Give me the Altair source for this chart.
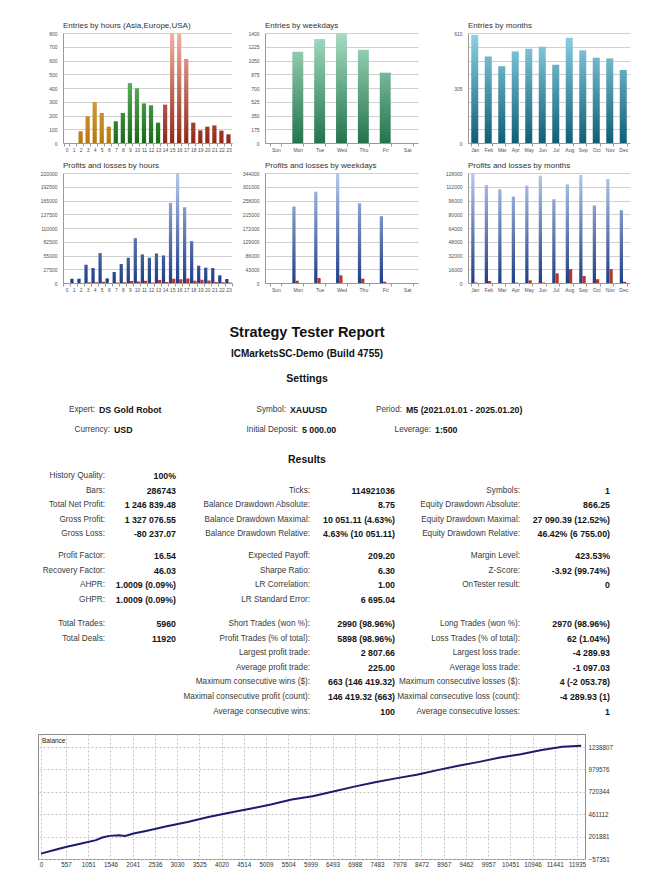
import altair as alt
import pandas as pd

FONT = "Liberation Sans"

# ---------------- data ----------------
hour_labels = [str(h) for h in range(24)]
hour_entries = [0, 0, 85, 194, 298, 218, 119, 158, 218, 436, 398, 288, 274, 148,
                279, 800, 793, 611, 148, 92, 119, 128, 90, 63]
hour_profit = [0, 8600, 8600, 36500, 29900, 59800, 9300, 21900, 37900, 50500, 89700, 57200,
               50500, 59100, 55200, 160200, 220000, 151500, 83700, 34600, 30600, 29900, 15300, 8000]
hour_loss = [0, 0, 0, 1500, 1500, 2500, 0, 1000, 1500, 4000, 3000, 4500,
             1000, 6000, 2000, 8500, 7500, 9000, 4500, 6500, 5000, 2000, 1500, 1000]

weekday_labels = ["Sun", "Mon", "Tue", "Wed", "Thu", "Fri", "Sat"]
weekday_entries = [0, 1162, 1324, 1400, 1188, 895, 0]
weekday_profit = [0, 239000, 285700, 344000, 249400, 208800, 0]
weekday_loss = [0, 7300, 15600, 24000, 13500, 4200, 0]

month_labels = ["Jan", "Feb", "Mar", "Apr", "May", "Jun", "Jul", "Aug", "Sep", "Oct", "Nov", "Dec"]
month_entries = [600, 480, 425, 508, 523, 534, 434, 584, 514, 473, 469, 405]
month_profit = [128000, 114000, 109000, 100500, 113300, 124900, 97400, 114800, 125700, 90100, 121000, 84700]
month_loss = [500, 2300, 0, 500, 3100, 500, 11200, 16200, 8100, 4300, 16200, 1500]

hour_ticks = list(range(0, 801, 100))
weekday_ticks = list(range(0, 1401, 175))
month_ticks = [i * 76.25 for i in range(9)]
hour_pl_ticks = list(range(0, 220001, 27500))
weekday_pl_ticks = list(range(0, 344001, 43000))
month_pl_ticks = list(range(0, 128001, 16000))

report_title = "Strategy Tester Report"
report_subtitle = "ICMarketsSC-Demo (Build 4755)"
settings_header = "Settings"
results_header = "Results"

settings_r1_labels = ["Expert:", "Symbol:", "Period:"]
settings_r1_values = ["DS Gold Robot", "XAUUSD", "M5 (2021.01.01 - 2025.01.20)"]
settings_r2_labels = ["Currency:", "Initial Deposit:", "Leverage:"]
settings_r2_values = ["USD", "5 000.00", "1:500"]

col1_rows = [0, 1, 2, 3, 4, 5, 6, 7, 8, 9, 10]
col1_labels = ["History Quality:", "Bars:", "Total Net Profit:", "Gross Profit:", "Gross Loss:",
               "Profit Factor:", "Recovery Factor:", "AHPR:", "GHPR:", "Total Trades:", "Total Deals:"]
col1_values = ["100%", "286743", "1 246 839.48", "1 327 076.55", "-80 237.07",
               "16.54", "46.03", "1.0009 (0.09%)", "1.0009 (0.09%)", "5960", "11920"]

col2_rows = [1, 2, 3, 4, 5, 6, 7, 8, 9, 10, 11, 12, 13, 14, 15]
col2_labels = ["Ticks:", "Balance Drawdown Absolute:", "Balance Drawdown Maximal:",
               "Balance Drawdown Relative:", "Expected Payoff:", "Sharpe Ratio:", "LR Correlation:",
               "LR Standard Error:", "Short Trades (won %):", "Profit Trades (% of total):",
               "Largest profit trade:", "Average profit trade:", "Maximum consecutive wins ($):",
               "Maximal consecutive profit (count):", "Average consecutive wins:"]
col2_values = ["114921036", "8.75", "10 051.11 (4.63%)", "4.63% (10 051.11)", "209.20", "6.30",
               "1.00", "6 695.04", "2990 (98.96%)", "5898 (98.96%)", "2 807.66", "225.00",
               "663 (146 419.32)", "146 419.32 (663)", "100"]

col3_rows = [1, 2, 3, 4, 5, 6, 7, 9, 10, 11, 12, 13, 14, 15]
col3_labels = ["Symbols:", "Equity Drawdown Absolute:", "Equity Drawdown Maximal:",
               "Equity Drawdown Relative:", "Margin Level:", "Z-Score:", "OnTester result:",
               "Long Trades (won %):", "Loss Trades (% of total):", "Largest loss trade:",
               "Average loss trade:", "Maximum consecutive losses ($):",
               "Maximal consecutive loss (count):", "Average consecutive losses:"]
col3_values = ["1", "866.25", "27 090.39 (12.52%)", "46.42% (6 755.00)", "423.53%",
               "-3.92 (99.74%)", "0", "2970 (98.96%)", "62 (1.04%)", "-4 289.93",
               "-1 097.03", "4 (-2 053.78)", "-4 289.93 (1)", "1"]

balance_deals = [0, 297, 575, 900, 1224, 1363, 1521, 1734, 1873, 2059, 2337, 2801, 3264, 3728,
                 4192, 4656, 5119, 5583, 6047, 6510, 6974, 7438, 7901, 8365, 8829, 9292, 9756,
                 10220, 10683, 11147, 11611, 12028]
balance_values = [5000, 45900, 84100, 122400, 160600, 191200, 210300, 217900, 210300, 237100,
                  267700, 321200, 370900, 428200, 477900, 524000, 573500, 630900, 669000, 722700,
                  780000, 829700, 875600, 917700, 971200, 1021000, 1066700, 1116400, 1154700,
                  1204400, 1242600, 1251839]
balance_x_ticks = [0, 557, 1051, 1546, 2041, 2536, 3030, 3525, 4020, 4514, 5009, 5504, 5999,
                   6493, 6988, 7483, 7978, 8472, 8967, 9462, 9957, 10451, 10946, 11441, 11935]
balance_y_ticks = [-57351, 201881, 461112, 720344, 979576, 1238807]

# ---------------- styles ----------------
ASIA = ("#ffd070", "#b87810")
EUROPE = ("#8cea8c", "#1a6a1a")
USA = ("#f2b2a2", "#902818")
WEEK_GREEN = ("#a6ddc2", "#23744c")
MONTH_TEAL = ("#8fd3e6", "#0f5f75")
BLUE = ("#b6c8ec", "#1f3e85")
LOSS = "#b3382a"
PLOT_H = 110
SPACING = 10
NO_FRAME = alt.ViewBackground(strokeOpacity=0, strokeWidth=0)


def grad(top, bot, v, maxv):
    return {"gradient": "linear", "x1": 0, "x2": 0, "y1": 1 - maxv / v, "y2": 1,
            "stops": [{"offset": 0, "color": top}, {"offset": 1, "color": bot}]}


def y_axis(values, label_expr=None):
    kw = dict(values=values, format="d", title=None, grid=True, gridColor="#d0d0d0", gridWidth=1,
              domainColor="#999999", ticks=False, labelFontSize=5, labelColor="#505050",
              labelPadding=6, labelFont=FONT)
    if label_expr:
        kw["labelExpr"] = label_expr
    return alt.Axis(**kw)


def x_axis():
    return alt.Axis(title=None, labelAngle=0, labelFontSize=5, labelColor="#505050",
                    domainColor="#999999", tickColor="#999999", tickSize=3, tickBand="extent",
                    labelPadding=1, grid=False, labelFont=FONT)


def ttl(text):
    return alt.TitleParams(text=text, anchor="start", frame="group", fontSize=8, font=FONT,
                           fontWeight="normal", color="#333333", offset=1)


def entries_chart(labels, values, colors, maxv, ticks, title, width, pad, label_expr=None):
    df = pd.DataFrame({"cat": labels, "val": values, "idx": list(range(len(labels)))})
    base = alt.Chart(df).encode(
        x=alt.X("cat:N", sort=labels,
                scale=alt.Scale(domain=labels, paddingInner=pad, paddingOuter=pad / 2), axis=x_axis()),
        y=alt.Y("val:Q", scale=alt.Scale(domain=[0, maxv], nice=False), axis=y_axis(ticks, label_expr)),
    )
    layers = [base.mark_bar(opacity=0)]
    for i, v in enumerate(values):
        if v <= 0:
            continue
        top, bot = colors[i]
        layers.append(base.transform_filter(alt.datum.idx == i).mark_bar(color=grad(top, bot, v, maxv)))
    return alt.layer(*layers).properties(width=width, height=PLOT_H, title=ttl(title), view=NO_FRAME)


def pl_chart(labels, profit, loss, maxv, ticks, title, width, pad):
    n = len(labels)
    df = pd.DataFrame({"cat": labels * 2, "kind": ["p"] * n + ["l"] * n,
                       "val": profit + loss, "idx": list(range(n)) * 2})
    base = alt.Chart(df).encode(
        x=alt.X("cat:N", sort=labels,
                scale=alt.Scale(domain=labels, paddingInner=pad, paddingOuter=pad / 2), axis=x_axis()),
        xOffset=alt.XOffset("kind:N", sort=["p", "l"],
                            scale=alt.Scale(domain=["p", "l"], paddingInner=0, paddingOuter=0)),
        y=alt.Y("val:Q", scale=alt.Scale(domain=[0, maxv], nice=False), axis=y_axis(ticks)),
    )
    layers = [base.mark_bar(opacity=0)]
    for i, v in enumerate(profit):
        if v <= 0:
            continue
        layers.append(base.transform_filter((alt.datum.idx == i) & (alt.datum.kind == "p"))
                      .mark_bar(color=grad(BLUE[0], BLUE[1], v, maxv)))
    layers.append(base.transform_filter((alt.datum.kind == "l") & (alt.datum.val > 0))
                  .mark_bar(color=LOSS))
    return alt.layer(*layers).properties(width=width, height=PLOT_H, title=ttl(title), view=NO_FRAME)


def spacer(w, h):
    # invisible frame that only reserves room in the layout
    return alt.Chart(pd.DataFrame({"s": [0]})).mark_rect(opacity=0).encode(
        x=alt.value(0), x2=alt.value(w), y=alt.value(0), y2=alt.value(h)
    ).properties(width=w, height=h, view=NO_FRAME)


hour_colors = [ASIA] * 7 + [EUROPE] * 7 + [USA] * 10

c1 = entries_chart(hour_labels, hour_entries, hour_colors, 800, hour_ticks,
                   "Entries by hours (Asia,Europe,USA)", 169, 0.4)
c2 = entries_chart(weekday_labels, weekday_entries, [WEEK_GREEN] * 7, 1400, weekday_ticks,
                   "Entries by weekdays", 153, 0.5)
c3 = entries_chart(month_labels, month_entries, [MONTH_TEAL] * 12, 610, month_ticks,
                   "Entries by months", 162, 0.48,
                   label_expr="datum.value % 305 == 0 ? datum.label : ''")
c4 = pl_chart(hour_labels, hour_profit, hour_loss, 220000, hour_pl_ticks,
              "Profits and losses by hours", 169, 0.08)
c5 = pl_chart(weekday_labels, weekday_profit, weekday_loss, 344000, weekday_pl_ticks,
              "Profits and losses by weekdays", 153, 0.5)
c6 = pl_chart(month_labels, month_profit, month_loss, 128000, month_pl_ticks,
              "Profits and losses by months", 162, 0.48)

row1 = alt.hconcat(spacer(25, PLOT_H), c1, spacer(33, PLOT_H), c2, spacer(50, PLOT_H), c3,
                   spacing=0, bounds="flush")
row2 = alt.hconcat(spacer(25, PLOT_H), c4, spacer(33, PLOT_H), c5, spacer(50, PLOT_H), c6,
                   spacing=0, bounds="flush")

# ---------------- report text block ----------------
OX, OY = 38, 300            # page position of the report block
REP_W, REP_H = 547, 421


def row_y(r):
    y = 474 + r * 14.6
    if r >= 5:
        y += 7
    if r >= 9:
        y += 9.6
    return y - OY


head_df = pd.DataFrame({
    "text": [report_title, report_subtitle, settings_header, results_header],
    "x": [307 - OX] * 4,
    "y": [331 - OY, 352 - OY, 377 - OY, 458 - OY],
    "fs": [14.5, 10, 10.5, 10.5],
})

set_label_anchor = [95, 286, 402, 110, 298, 431]
set_rows_y = [408, 408, 408, 428, 428, 428]
set_df = pd.DataFrame({
    "label": settings_r1_labels + settings_r2_labels,
    "value": settings_r1_values + settings_r2_values,
    "lx": [a - OX for a in set_label_anchor],
    "vx": [a - OX + 4 for a in set_label_anchor],
    "y": [v - OY for v in set_rows_y],
})

col_label_x = [105, 310, 520]
col_value_x = [176, 395, 610]
res_rows = []
for ci, (rows, labs, vals) in enumerate([(col1_rows, col1_labels, col1_values),
                                         (col2_rows, col2_labels, col2_values),
                                         (col3_rows, col3_labels, col3_values)]):
    for r, lab, val in zip(rows, labs, vals):
        res_rows.append({"label": lab, "value": val, "lx": col_label_x[ci] - OX,
                         "vx": col_value_x[ci] - OX, "y": row_y(r)})
res_df = pd.DataFrame(res_rows)

heads = alt.Chart(head_df).mark_text(font=FONT, fontWeight="bold", color="#111111",
                                     align="center", baseline="middle").encode(
    x=alt.X("x:Q", scale=None, axis=None), y=alt.Y("y:Q", scale=None, axis=None),
    text="text:N", size=alt.Size("fs:Q", scale=None, legend=None))
set_l = alt.Chart(set_df).mark_text(font=FONT, fontSize=8.2, color="#3a3a3a", align="right",
                                    baseline="middle").encode(
    x=alt.X("lx:Q", scale=None, axis=None), y=alt.Y("y:Q", scale=None, axis=None), text="label:N")
set_v = alt.Chart(set_df).mark_text(font=FONT, fontSize=8.8, fontWeight="bold", color="#141414",
                                    align="left", baseline="middle").encode(
    x=alt.X("vx:Q", scale=None, axis=None), y=alt.Y("y:Q", scale=None, axis=None), text="value:N")
res_l = alt.Chart(res_df).mark_text(font=FONT, fontSize=8.2, color="#3a3a3a", align="right",
                                    baseline="middle").encode(
    x=alt.X("lx:Q", scale=None, axis=None), y=alt.Y("y:Q", scale=None, axis=None), text="label:N")
res_v = alt.Chart(res_df).mark_text(font=FONT, fontSize=8.8, fontWeight="bold", color="#141414",
                                    align="right", baseline="middle").encode(
    x=alt.X("vx:Q", scale=None, axis=None), y=alt.Y("y:Q", scale=None, axis=None), text="value:N")
frame = alt.Chart(pd.DataFrame({"s": [0]})).mark_rect(opacity=0, strokeOpacity=0).encode(
    x=alt.value(0), x2=alt.value(REP_W), y=alt.value(0), y2=alt.value(REP_H))

report = alt.layer(frame, heads, set_l, set_v, res_l, res_v).properties(
    width=REP_W, height=REP_H, view=NO_FRAME)

# ---------------- balance chart ----------------
bal_df = pd.DataFrame({"deal": balance_deals, "bal": balance_values})
bal_line = alt.Chart(bal_df).mark_line(color="#1c1c6c", strokeWidth=2).encode(
    x=alt.X("deal:Q", scale=alt.Scale(domain=[-67, 12113], nice=False, zero=False),
            axis=alt.Axis(values=balance_x_ticks, title=None, domain=False, ticks=False,
                          grid=True, gridDash=[2, 2], gridColor="#c4c4c4", labelFontSize=6.3,
                          labelColor="#333333", labelPadding=2, labelFont=FONT, format="d",
                          labelOverlap=False)),
    y=alt.Y("bal:Q", scale=alt.Scale(domain=[-57351, 1389256], nice=False, zero=False),
            axis=alt.Axis(values=balance_y_ticks, orient="right", title=None, domain=False,
                          ticks=False, grid=True, gridDash=[2, 2], gridColor="#c4c4c4",
                          labelFontSize=6.3, labelColor="#333333", labelPadding=3,
                          labelFont=FONT, format="d", labelOverlap=False)),
)
bal_label = alt.Chart(pd.DataFrame({"t": ["Balance"]})).mark_text(
    font=FONT, fontSize=6.5, color="#222222", align="left", baseline="middle").encode(
    text="t:N", x=alt.value(4), y=alt.value(7))
balance = alt.layer(bal_line, bal_label).properties(
    width=547, height=125, view=alt.ViewBackground(stroke="#8a8a8a", strokeWidth=1))

chart = alt.vconcat(row1, row2, report, balance, spacing=SPACING, bounds="full").properties(
    padding={"left": 28, "top": 14, "right": 5, "bottom": 5},
    background="white",
).configure_view(stroke=None).configure(font=FONT)

chart.save("out.html", embed_options={"renderer": "svg", "actions": False})
